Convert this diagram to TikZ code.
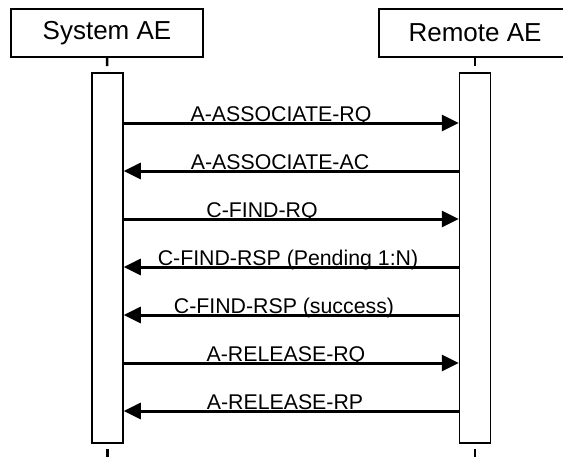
\documentclass[tikz,border=0pt]{standalone}
\usepackage{fontspec}
\setmainfont{Liberation Sans}
\usetikzlibrary{arrows.meta}

\tikzset{
  actor/.style={draw, line width=2pt, minimum width=192pt, minimum height=48pt,
    inner sep=0pt, font=\fontsize{26}{30}\selectfont},
  actbar/.style={draw, fill=white, line width=1.5pt, minimum width=31pt,
    minimum height=370pt, inner sep=0pt},
  lifeline/.style={line width=2.5pt, dash pattern=on 8pt off 6pt},
  msg/.style={line width=3pt, -{Triangle[length=17pt,width=16pt]}},
  lbl/.style={anchor=base, inner sep=0pt, font=\fontsize{21.3}{25}\selectfont}
}

\begin{document}
\begin{tikzpicture}[x=1pt,y=-1pt]
    \fill[white] (0,0) rectangle (563,458);
    \useasboundingbox (0,0) rectangle (563,458);

    % Actors
    \node[actor] (sys) at (107,33) {System AE};
    \node[actor] (rem) at (475,33) {Remote AE};

    % Lifelines
    \draw[lifeline] (sys.south) -- (107.5,443);
    \draw[lifeline] (rem.south) -- (475,443);
    \draw[lifeline, dash phase=8pt] (107.5,443) -- (107.5,462);
    \draw[lifeline, dash phase=8pt] (475,443) -- (475,462);

    % Activation bars
    \node[actbar] (sysbar) at (107.5,258) {};
    \node[actbar] (rembar) at (475,258) {};

    % Message ends
    \foreach \i/\y in {1/123,2/171,3/219,4/267,5/315,6/363,7/411} {
        \coordinate (s\i) at (sysbar.east |- 0,\y);
        \coordinate (r\i) at (rembar.west |- 0,\y);
    }

    % Association
    \draw[msg] (s1) -- (r1);
    \node[lbl] (l1) at (281,121) {A-ASSOCIATE-RQ};
    \draw[msg] (r2) -- (s2);
    \node[lbl] (l2) at (280,169) {A-ASSOCIATE-AC};

    % Query
    \draw[msg] (s3) -- (r3);
    \node[lbl] (l3) at (262,217) {C-FIND-RQ};
    \draw[msg] (r4) -- (s4);
    \node[lbl] (l4) at (288,265) {C-FIND-RSP (Pending 1:N)};
    \draw[msg] (r5) -- (s5);
    \node[lbl] (l5) at (284,313) {C-FIND-RSP (success)};

    % Release
    \draw[msg] (s6) -- (r6);
    \node[lbl] (l6) at (286,361) {A-RELEASE-RQ};
    \draw[msg] (r7) -- (s7);
    \node[lbl] (l7) at (285,409) {A-RELEASE-RP};
\end{tikzpicture}
\end{document}
